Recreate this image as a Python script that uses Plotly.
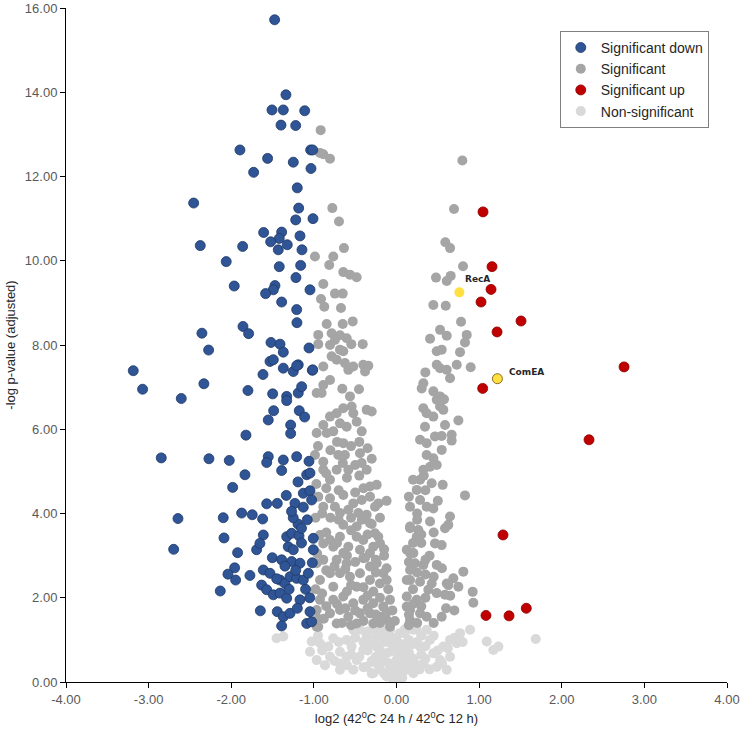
import plotly.graph_objects as go

# ---------------- data ----------------
down_x = [-1.475, -1.338, -1.507, -1.370, -1.111, -1.398, -1.220, -1.895, -1.039, -1.014,
          -1.560, -1.249, -1.729, -1.035, -1.201, -2.455, -1.184, -1.220, -1.011, -1.608,
          -1.390, -1.419, -1.523, -1.168, -1.322, -2.375, -1.862, -1.431, -1.144, -2.061,
          -1.419, -1.160, -1.217, -1.964, -1.471, -1.491, -1.584, -1.047, -1.390, -1.208,
          -1.205, -2.355, -1.858, -1.790, -2.274, -1.519, -1.410, -1.370, -1.059, -3.186,
          -3.073, -2.605, -2.331, -1.798, -1.531, -1.491, -1.616, -1.370, -1.249, -1.189,
          -1.019, -1.499, -1.329, -1.329, -1.189, -1.148, -1.487, -1.552, -1.177, -1.112,
          -1.281, -1.281, -1.822, -2.847, -2.270, -2.024, -1.552, -1.571, -1.370, -1.208,
          -1.059, -1.390, -1.834, -1.087, -1.047, -1.983, -1.192, -1.334, -1.128, -1.047,
          -1.027, -1.571, -1.443, -1.229, -1.128, -2.645, -2.097, -1.874, -1.746, -1.620,
          -1.192, -1.329, -1.269, -1.180, -1.612, -2.088, -2.697, -1.693, -1.653, -1.310,
          -1.249, -1.007, -1.007, -1.923, -1.503, -1.390, -1.269, -1.168, -1.019, -1.959,
          -2.040, -1.947, -1.774, -1.612, -1.531, -1.410, -1.350, -1.289, -1.208, -1.128,
          -1.067, -1.632, -1.571, -1.491, -1.410, -1.329, -1.168, -2.133, -1.648, -1.443,
          -1.370, -1.289, -1.390, -1.087, -1.027, -1.047, -1.208, -1.014,
          -1.25, -1.15, -1.35, -1.22, -1.10, -1.30, -1.45, -1.05, -1.20, -1.15, -1.08, -1.27]
down_y = [15.72, 13.94, 13.58, 13.58, 13.56, 13.22, 13.21, 12.63, 12.63, 12.63,
          12.43, 12.34, 12.10, 12.19, 11.73, 11.37, 11.25, 10.97, 11.00, 10.67,
          10.68, 10.53, 10.45, 10.59, 10.38, 10.36, 10.34, 10.26, 10.26, 9.98,
          9.86, 9.89, 9.60, 9.40, 9.41, 9.31, 9.22, 9.31, 9.02, 8.84,
          8.53, 8.28, 8.44, 8.27, 7.88, 8.06, 8.02, 7.83, 7.93, 7.39,
          6.95, 6.73, 7.08, 6.92, 7.61, 7.65, 7.30, 7.45, 7.37, 7.53,
          7.40, 6.84, 6.78, 6.68, 6.86, 7.01, 6.44, 6.22, 6.44, 6.29,
          6.10, 5.90, 5.86, 5.32, 5.30, 5.26, 5.35, 5.21, 5.27, 5.35,
          5.24, 5.02, 4.92, 4.92, 4.96, 4.62, 4.75, 4.43, 4.48, 4.54,
          4.32, 4.23, 4.24, 4.24, 4.15, 3.88, 3.90, 4.01, 3.97, 3.87,
          3.75, 3.45, 3.53, 3.47, 3.49, 3.42, 3.15, 3.14, 3.29, 3.21,
          3.14, 3.14, 3.41, 3.07, 2.95, 2.90, 2.86, 2.82, 2.83, 2.71,
          2.56, 2.42, 2.53, 2.66, 2.58, 2.42, 2.34, 2.50, 2.46, 2.42,
          2.58, 2.30, 2.19, 2.07, 2.11, 1.99, 1.95, 2.16, 1.69, 1.67,
          1.55, 1.63, 1.33, 1.39, 1.43, 1.67, 7.51, 7.41,
          3.90, 3.65, 2.75, 2.65, 2.20, 2.20, 2.45, 2.00, 1.75, 3.30, 3.85, 4.05]

sig_x = [-0.918, -0.926, -0.886, -0.805, -0.777, -0.696, -0.636, -0.987, -0.765, -0.814,
         -0.644, -0.563, -0.482, -0.886, -0.745, -0.651, -0.914, -0.874, -0.672, -0.845,
         -0.651, -0.530, -0.947, -0.947, -0.785, -0.745, -0.684, -0.603, -0.547, -0.409,
         -0.805, -0.684, -0.644, -0.785, -0.724, -0.886, -0.624, -0.583, -0.523, -0.402,
         -0.341, -0.381, -0.805, -0.886, -0.966, -0.906, -0.656, -0.563, -0.454,
         -0.805, -0.724, -0.644, -0.543, -0.523, -0.361, -0.300, -0.886, -0.684, -0.603,
         -0.482, -0.421, -0.966, -0.765, -0.644, -0.845,
         -0.987, -0.886, -0.704, -0.624, -0.442, -0.724, -0.583, -0.805, -0.421, -0.361,
         -0.321, -0.240, -0.886,
         -0.947, -0.886, -0.805, -0.644, -0.523, -0.421, -0.321, -0.260, -0.220, -0.684,
         -0.583, -0.462, -0.361, -0.745,
         -0.644, -0.482, -0.321, -0.260, -0.926, -0.805, -0.684, -0.583, -0.482, -0.402,
         -0.281, -0.200, -0.886, -0.765, -0.644, -0.442, -0.321,
         -0.966, -0.886, -0.724, -0.603, -0.402, -0.321, -0.240, -0.160, -0.926, -0.805,
         -0.684, -0.563, -0.442, -0.321, -0.200, -0.765, -0.482, -0.119,
         -0.926, -0.966, -0.765, -0.644, -0.523, -0.402, -0.281, -0.160, -0.079, -0.805,
         -0.684, -0.583, -0.442, -0.321, -0.200, -0.119, -0.947, -0.724, -0.482, -0.281,
         -0.079, -0.98, -0.96, -0.98, -0.95, -0.97, -0.20, -0.25, -0.15, -0.966,
         -0.85, -0.72, -0.55, -0.35, -0.22, -0.60, -0.38, -0.15,
         -0.85, -0.75, -0.62, -0.50, -0.25, -0.12, -0.55, -0.40, -0.28, -0.10, -0.90,
         -0.85, -0.72, -0.62, -0.50, -0.35, -0.25, -0.12, -0.05, -0.88, -0.66, -0.55,
         -0.40, -0.20, -0.02, -0.35, -0.60,
         -0.90, -0.80, -0.70, -0.55, -0.42, -0.30, -0.20, -0.12, -0.50, -0.70, -0.85, -0.40,
         -0.95, -0.80, -0.72, -0.55, -0.45, -0.35, -0.30, -0.50, -0.65, -0.85, -0.60, -0.45,
         0.797, 0.696, 0.591, 0.648, 0.805, 0.478, 0.608, 0.656, 0.446, 0.596,
         0.781, 0.406, 0.527, 0.608, 0.487, 0.547, 0.850, 0.829, 0.769, 0.898,
         0.729, 0.487, 0.527, 0.608, 0.349, 0.648, 0.325, 0.305, 0.446, 0.527,
         0.487, 0.575, 0.325, 0.365, 0.446, 0.527, 0.567, 0.345, 0.587, 0.749,
         0.285, 0.365, 0.466, 0.547, 0.668, 0.668, 0.365, 0.446, 0.547, 0.406,
         0.487, 0.325, 0.285, 0.426, 0.559, 0.829, 0.245, 0.285, 0.365, 0.446,
         0.648, 0.627, 0.587, 0.164, 0.265, 0.245, 0.406, 0.466, 0.547, 0.124,
         0.204, 0.224, 0.325, 0.164, 0.487, 0.809, 0.688, 0.608, 0.749, 0.164,
         0.285, 0.426, 0.385, 0.487, 0.587, 0.922, 0.930, 0.124, 0.245, 0.164,
         0.285, 0.365, 0.547, 0.200, 0.164, 0.164, 0.164, 0.124, 0.124, 0.164,
         0.627, 0.33, 0.25, 0.30, 0.40, 0.35,
         0.15, 0.20, 0.30, 0.35, 0.20, 0.25, 0.35, 0.15, 0.20, 0.30, 0.45, 0.25,
         0.15, 0.35, 0.50, 0.45, 0.55, 0.65, 0.70, 0.15, 0.25, 0.45, 0.60]
sig_y = [13.10, 12.56, 12.53, 12.42, 11.25, 10.93, 10.30, 10.10, 10.10, 9.90,
         9.73, 9.67, 9.61, 9.45, 9.22, 9.22, 9.09, 8.91, 8.88, 8.50,
         8.50, 8.56, 8.24, 8.02, 8.28, 8.12, 8.23, 8.16, 8.02, 8.02,
         8.00, 7.89, 7.85, 7.73, 7.65, 7.49, 7.57, 7.41, 7.49, 7.53,
         7.51, 7.37, 7.17, 7.05, 6.86, 6.86, 6.96, 6.78, 6.95,
         6.30, 6.38, 6.50, 6.54, 6.38, 6.46, 6.42, 6.10, 6.14, 6.06,
         6.18, 5.95, 5.91, 5.95, 5.67, 5.91,
         5.39, 5.23, 5.39, 5.39, 5.43, 5.04, 5.04, 4.80, 5.20, 5.04,
         4.64, 4.68, 5.04,
         4.40, 4.16, 4.36, 4.44, 4.24, 4.32, 4.40, 4.16, 4.24, 4.01,
         4.09, 4.01, 3.97, 4.16,
         3.73, 3.69, 3.77, 3.53, 3.49, 3.37, 3.45, 3.21, 3.45, 3.37,
         3.21, 3.29, 3.29, 3.21, 3.06, 3.14, 3.06,
         2.82, 2.90, 2.90, 2.82, 2.94, 2.74, 2.82, 2.58, 2.42, 2.58,
         2.58, 2.50, 2.58, 2.42, 2.34, 2.26, 2.26, 2.42,
         1.95, 1.71, 1.95, 2.03, 1.87, 1.95, 1.87, 1.79, 1.95, 1.63,
         1.71, 1.55, 1.63, 1.63, 1.55, 1.47, 1.31, 1.39, 1.39, 1.39,
         1.31, 3.90, 3.05, 2.20, 1.50, 4.70, 2.00, 2.90, 3.00, 1.31,
         3.55, 3.30, 3.60, 3.50, 3.45, 3.00, 2.95, 3.15,
         2.65, 2.75, 2.68, 2.85, 2.60, 2.70, 2.30, 2.25, 2.15, 2.20, 2.10,
         1.80, 1.85, 1.75, 1.70, 1.75, 1.60, 1.65, 1.70, 1.50, 1.40, 1.35,
         1.45, 1.40, 1.45, 2.05, 2.15,
         4.00, 3.90, 3.85, 3.90, 3.85, 3.75, 3.90, 4.30, 4.50, 4.55, 4.60, 4.60,
         5.60, 5.50, 5.70, 5.60, 5.70, 5.55, 5.30, 5.15, 5.20, 4.95, 4.85, 4.90,
         12.38, 11.23, 10.44, 10.30, 9.87, 9.60, 9.52, 9.64, 8.95, 8.93,
         8.55, 8.15, 8.36, 8.22, 7.85, 7.89, 8.24, 8.06, 7.83, 7.47,
         7.53, 7.53, 7.45, 7.41, 7.35, 7.21, 7.09, 6.97, 6.90, 6.78,
         6.70, 6.71, 6.50, 6.38, 6.30, 6.54, 6.46, 6.06, 6.10, 6.21,
         5.75, 5.67, 5.83, 5.84, 5.87, 5.73, 5.39, 5.31, 5.51, 5.11,
         5.15, 5.04, 4.80, 4.72, 4.68, 4.43, 4.56, 4.32, 4.16, 4.12,
         3.93, 3.73, 3.65, 3.65, 3.61, 3.45, 3.81, 3.29, 3.25, 3.14,
         3.06, 2.82, 2.78, 2.66, 2.78, 2.62, 2.46, 2.34, 2.26, 2.42,
         2.38, 2.34, 2.19, 2.11, 2.07, 2.14, 1.88, 2.03, 1.95, 1.71,
         1.63, 1.55, 1.55, 4.80, 4.16, 3.69, 3.06, 2.42, 1.79, 1.47,
         2.30, 4.90, 4.00, 3.30, 3.00, 2.55,
         1.60, 1.85, 1.80, 2.00, 2.20, 2.60, 2.90, 2.85, 3.30, 3.50, 3.55, 3.85,
         4.40, 4.55, 4.30, 2.50, 2.70, 2.05, 1.70, 1.35, 1.40, 1.40, 1.75]

up_x = [1.047, 1.156, 1.144, 1.023, 1.507, 1.217, 1.043, 1.289, 1.083, 1.362, 1.571, 2.754, 2.330]
up_y = [11.16, 9.86, 9.32, 9.02, 8.57, 8.31, 6.97, 3.49, 1.58, 1.57, 1.75, 7.48, 5.75]

ns_x = [-1.451, -1.370, -1.027, -1.047, -0.926, -0.966, -0.825, -0.765, -0.684, -0.805,
        -0.866, -0.684, -0.603, -0.523, -0.543, -0.603, -0.482, -0.684, -0.523, -0.402,
        -0.361, -0.442, -0.281, -0.240, -0.361, -0.200, -0.119, -0.079, -0.281, -0.119,
        -0.039, 0.000, 0.040, 0.000, -0.040, 0.040, 0.124, 0.164, 0.124, 0.204,
        0.245, 0.285, 0.325, 0.406, 0.446, 0.487, 0.365, 0.527, 0.567, 0.648,
        0.608, 0.769, 0.890, 0.729, 0.648, 1.092, 1.172, 1.233, 1.685, -0.200,
        0.204, -0.160, -0.079, 0.080, 0.124,
        -0.30, -0.25, -0.20, -0.15, -0.10, -0.05, -0.10, 0.05, 0.10, 0.15,
        0.20, 0.25, 0.30, 0.00, -0.05, 0.10, -0.20, -0.15, 0.02, 0.07,
        -0.03, 0.18, -0.30, -0.40, 0.35,
        -0.45, -0.40, -0.35, -0.30, -0.25, -0.25, -0.20, -0.15, -0.10, -0.10,
        -0.05, -0.05, 0.00, 0.00, 0.05, 0.05, 0.08, 0.12, 0.15, 0.20,
        0.22, 0.28, 0.30, 0.35, 0.40, -0.50, -0.55, -0.60, -0.70, -0.75,
        -0.90, -0.95, 0.45, 0.50, 0.55, 0.62, 0.70, 0.80, -0.35, 0.10,
        -0.12, -0.02, 0.03]
ns_y = [1.04, 1.08, 0.96, 0.72, 0.92, 0.52, 0.84, 1.04, 0.72, 0.60,
        0.40, 0.44, 1.00, 1.24, 0.84, 0.60, 0.52, 0.29, 0.29, 0.76,
        1.08, 1.24, 1.24, 0.84, 0.36, 0.52, 1.00, 1.24, 0.21, 0.13,
        0.05, 0.00, 0.21, 0.52, 0.84, 1.16, 0.92, 0.60, 0.29, 0.21,
        1.24, 0.84, 0.44, 1.00, 0.68, 0.36, 1.24, 0.52, 0.84, 1.00,
        0.29, 1.16, 1.24, 0.92, 0.60, 0.96, 0.76, 0.84, 1.02, 1.31,
        1.24, 0.60, 0.36, 0.60, 0.76,
        0.90, 0.60, 0.30, 0.95, 0.70, 0.40, 0.20, 0.90, 0.45, 1.00,
        0.55, 0.95, 0.65, 0.70, 1.05, 1.15, 1.15, 0.50, 0.25, 0.10,
        0.12, 0.30, 0.50, 0.95, 0.85,
        0.60, 0.35, 0.75, 0.20, 0.45, 1.05, 0.75, 0.20, 0.45, 0.95,
        0.25, 0.75, 0.40, 1.00, 0.55, 0.20, 0.80, 0.35, 0.70, 0.90,
        0.45, 0.30, 1.10, 0.55, 0.30, 1.05, 0.65, 0.40, 0.95, 0.50,
        0.75, 1.10, 1.10, 0.75, 0.45, 0.80, 1.05, 0.95, 1.20, 1.25,
        1.20, 0.08, 0.05]

genes = ["RecA", "ComEA"]
gene_x = [0.761, 1.221]
gene_y = [9.25, 7.20]

x_ticks = [-4, -3, -2, -1, 0, 1, 2, 3, 4]
x_tick_text = ["-4.00", "-3.00", "-2.00", "-1.00", "0.00", "1.00", "2.00", "3.00", "4.00"]
y_ticks = [0, 2, 4, 6, 8, 10, 12, 14, 16]
y_tick_text = ["0.00", "2.00", "4.00", "6.00", "8.00", "10.00", "12.00", "14.00", "16.00"]

# ---------------- figure ----------------
FONT = "Liberation Sans, Arial, sans-serif"
MS = 10

fig = go.Figure()
fig.add_trace(go.Scatter(x=ns_x, y=ns_y, mode="markers", name="Non-significant",
                         legendrank=4,
                         marker=dict(color="#D9D9D9", size=MS, line=dict(width=0))))
fig.add_trace(go.Scatter(x=sig_x, y=sig_y, mode="markers", name="Significant",
                         legendrank=2,
                         marker=dict(color="#A5A5A5", size=MS, line=dict(width=0))))
fig.add_trace(go.Scatter(x=down_x, y=down_y, mode="markers", name="Significant down",
                         legendrank=1,
                         marker=dict(color="#2F5597", size=MS, line=dict(width=0.8, color="#203864"))))
fig.add_trace(go.Scatter(x=up_x, y=up_y, mode="markers", name="Significant up",
                         legendrank=3,
                         marker=dict(color="#C00000", size=MS, line=dict(width=0.8, color="#8B0000"))))
fig.add_trace(go.Scatter(x=gene_x, y=gene_y, mode="markers", showlegend=False,
                         marker=dict(color="#FFE040", size=MS,
                                     line=dict(width=[0, 1], color="#8A6D1E"))))

offsets = [(4, 13), (10, 7)]
for g, gx, gy, (dx, dy) in zip(genes, gene_x, gene_y, offsets):
    fig.add_annotation(x=gx, y=gy, text="<b>" + g + "</b>", showarrow=False,
                       xanchor="left", yanchor="middle", xshift=dx, yshift=dy,
                       font=dict(family="DejaVu Sans, sans-serif", size=9, color="#262626"))

fig.update_layout(
    width=744, height=729,
    margin=dict(l=66, r=17, t=8, b=47),
    paper_bgcolor="white", plot_bgcolor="white",
    font=dict(family=FONT, size=13, color="#595959"),
    legend=dict(x=0.747, y=0.966, xanchor="left", yanchor="top",
                bordercolor="#7F7F7F", borderwidth=1, bgcolor="white",
                font=dict(family=FONT, size=14, color="#262626"),
                itemwidth=30, tracegroupgap=0),
    showlegend=True,
)
fig.update_xaxes(range=[-4, 4], tickvals=x_ticks, ticktext=x_tick_text, automargin=False,
                 showgrid=False, zeroline=False, showline=True, linecolor="black",
                 linewidth=1, ticks="outside", ticklen=5, tickcolor="black",
                 title=dict(text="log2 (42<sup>0</sup>C 24 h / 42<sup>0</sup>C 12 h)",
                            font=dict(family=FONT, size=13, color="#262626"), standoff=8))
fig.update_yaxes(range=[0, 16], tickvals=y_ticks, ticktext=y_tick_text, automargin=False,
                 showgrid=False, zeroline=False, showline=True, linecolor="black",
                 linewidth=1, ticks="outside", ticklen=5, tickcolor="black",
                 title=dict(text="-log p-value (adjusted)",
                            font=dict(family=FONT, size=13, color="#262626"), standoff=6))

fig.write_html("out.html")
